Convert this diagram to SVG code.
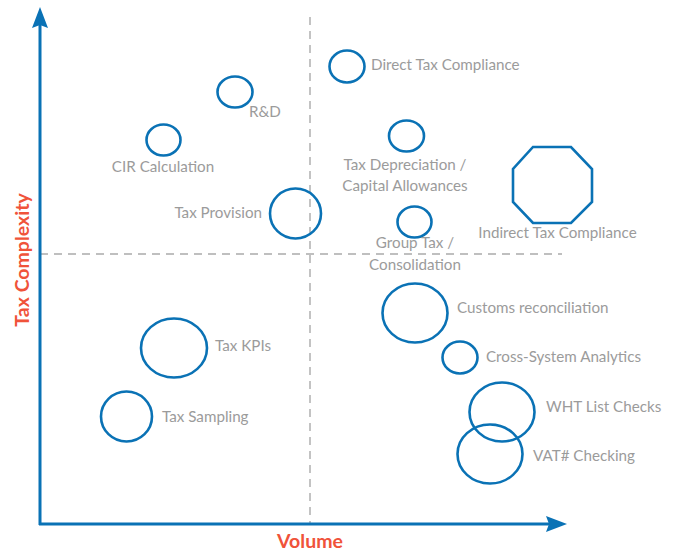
<svg xmlns="http://www.w3.org/2000/svg" width="673" height="551" viewBox="0 0 673 551">
<style>
.n{fill:none;stroke:#0A72B5;stroke-width:2.6}
.t{font-family:Lato,"Liberation Sans",sans-serif;font-size:15.2px;fill:#9B9B9B}
.m{text-anchor:middle}
.ax{font-family:Lato,"Liberation Sans",sans-serif;font-size:19.5px;font-weight:bold;fill:#F0533A}
.d{stroke:#AAAAAA;stroke-width:1.4;stroke-dasharray:8,6;fill:none}
</style>
<rect width="673" height="551" fill="#fff"/>
<g id="grid">
<line class="d" x1="310" y1="17" x2="310" y2="525"/>
<line class="d" x1="40" y1="254" x2="562" y2="254"/>
</g>
<g id="axes">
<line x1="40" y1="525" x2="40" y2="24" stroke="#0A72B5" stroke-width="3"/>
<polygon points="40,7 32,28 40,25 48,28" fill="#0A72B5"/>
<line x1="39" y1="524" x2="550" y2="524" stroke="#0A72B5" stroke-width="3"/>
<polygon points="567,524 546,516 549,524 546,532" fill="#0A72B5"/>
<text class="ax m" x="310" y="548">Volume</text>
<text class="ax m" transform="translate(29,260) rotate(-90)">Tax Complexity</text>
</g>
<g id="direct-tax"><ellipse class="n" cx="347" cy="66.5" rx="17.5" ry="16"/><text class="t" x="371" y="70">Direct Tax Compliance</text></g>
<g id="rnd"><ellipse class="n" cx="235" cy="92" rx="17.5" ry="15.5"/><text class="t" x="249" y="117">R&amp;D</text></g>
<g id="cir"><ellipse class="n" cx="163.5" cy="140" rx="17" ry="15.5"/><text class="t m" x="163" y="171.5">CIR Calculation</text></g>
<g id="tax-provision"><ellipse class="n" cx="295.5" cy="213.5" rx="25.5" ry="25"/><text class="t" x="262" y="218" text-anchor="end">Tax Provision</text></g>
<g id="tax-depreciation"><ellipse class="n" cx="406.5" cy="136" rx="17.5" ry="15.5"/><text class="t m" x="405" y="169.5">Tax Depreciation /</text><text class="t m" x="405" y="190.5">Capital Allowances</text></g>
<g id="group-tax"><ellipse class="n" cx="414.5" cy="222" rx="17" ry="15.5"/><text class="t m" x="415" y="248">Group Tax /</text><text class="t m" x="415" y="269.5">Consolidation</text></g>
<g id="indirect-tax"><polygon class="n" points="533,147 571,147 592,169 592,202 571,223 533,223 513,202 513,169"/><text class="t m" x="557.5" y="237.5">Indirect Tax Compliance</text></g>
<g id="tax-kpis"><ellipse class="n" cx="174" cy="348" rx="33" ry="29.5"/><text class="t" x="215" y="351">Tax KPIs</text></g>
<g id="tax-sampling"><ellipse class="n" cx="126.5" cy="416.5" rx="25.5" ry="25"/><text class="t" x="162" y="421.5">Tax Sampling</text></g>
<g id="customs"><ellipse class="n" cx="415" cy="313" rx="32.5" ry="29.5"/><text class="t" x="457" y="312.5">Customs reconciliation</text></g>
<g id="cross-system"><ellipse class="n" cx="460" cy="357.5" rx="17.5" ry="16"/><text class="t" x="486" y="361.5">Cross-System Analytics</text></g>
<g id="wht"><ellipse class="n" cx="502" cy="412" rx="32.5" ry="29.5"/><text class="t" x="546" y="411.5">WHT List Checks</text></g>
<g id="vat"><ellipse class="n" cx="490" cy="454" rx="32.5" ry="29.5"/><text class="t" x="533" y="461">VAT# Checking</text></g>
</svg>
